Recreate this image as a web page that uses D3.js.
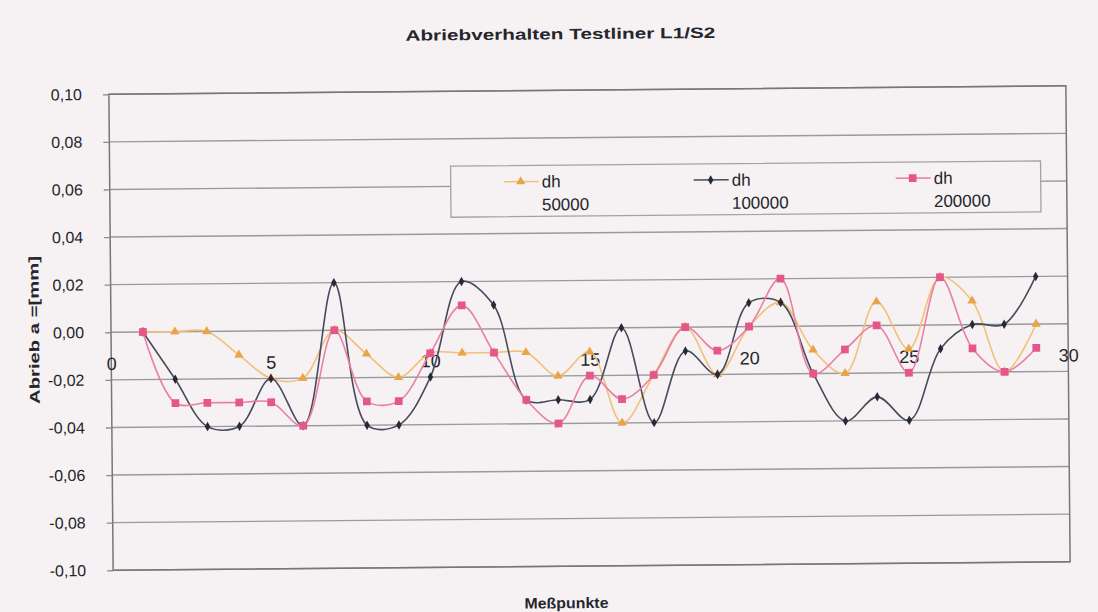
<!DOCTYPE html>
<html>
<head>
<meta charset="utf-8">
<script src="https://cdn.jsdelivr.net/npm/d3@7"></script>
<style>
  body { margin: 0; background: #f6f2f4; }
  svg { display: block; }
  text { font-family: "Liberation Sans", Arial, sans-serif; fill: #26262b; }
</style>
</head>
<body>
<svg id="chart"></svg>
<script>
// Meßpunkte 1..29
const points = [1, 2, 3, 4, 5, 6, 7, 8, 9, 10, 11, 12, 13, 14, 15, 16, 17, 18, 19, 20,
  21, 22, 23, 24, 25, 26, 27, 28, 29];
const dh50000 = [0, 0, 0, -0.01, -0.02, -0.02, 0, -0.01, -0.02, -0.01, -0.01, -0.01, -0.01, -0.02, -0.01,
  -0.04, -0.02, 0, -0.02, 0, 0.01, -0.01, -0.02, 0.01, -0.01, 0.02, 0.01, -0.02, 0];
const dh100000 = [0, -0.02, -0.04, -0.04, -0.02, -0.04, 0.02, -0.04, -0.04, -0.02, 0.02, 0.01, -0.03, -0.03, -0.03,
  0, -0.04, -0.01, -0.02, 0.01, 0.01, -0.02, -0.04, -0.03, -0.04, -0.01, 0, 0, 0.02];
const dh200000 = [0, -0.03, -0.03, -0.03, -0.03, -0.04, 0, -0.03, -0.03, -0.01, 0.01, -0.01, -0.03, -0.04, -0.02,
  -0.03, -0.02, 0, -0.01, 0, 0.02, -0.02, -0.01, 0, -0.02, 0.02, -0.01, -0.02, -0.01];
const seriesNames = ["dh 50000", "dh 100000", "dh 200000"];
const yTicks = [0.10, 0.08, 0.06, 0.04, 0.02, 0, -0.02, -0.04, -0.06, -0.08, -0.10];
const xTicks = [0, 5, 10, 15, 20, 25, 30];

const W = 1098, H = 612;
const plot = { left: 111, right: 1068, top: 90, bottom: 566 };

const svg = d3.select("#chart").attr("width", W).attr("height", H);
// the scan is slightly rotated
const root = svg.append("g").attr("transform", "rotate(-0.51, 589.5, 328)");

const x = d3.scaleLinear().domain([0, 30]).range([plot.left, plot.right]);
const y = d3.scaleLinear().domain([-0.1, 0.1]).range([plot.bottom, plot.top]);
const fmt = d => d.toFixed(2).replace(".", ",").replace("−", "-");

// gridlines
root.append("g")
  .selectAll("line")
  .data(yTicks)
  .join("line")
  .attr("x1", plot.left).attr("x2", plot.right)
  .attr("y1", d => y(d)).attr("y2", d => y(d))
  .attr("stroke", "#9b999b").attr("stroke-width", 1.4);

// plot border
root.append("rect")
  .attr("x", plot.left).attr("y", plot.top)
  .attr("width", plot.right - plot.left).attr("height", plot.bottom - plot.top)
  .attr("fill", "none").attr("stroke", "#77767a").attr("stroke-width", 1.5);

// y axis
const yAxis = root.append("g")
  .attr("transform", `translate(${plot.left},0)`)
  .call(d3.axisLeft(y).tickValues(yTicks).tickFormat(fmt).tickSize(6).tickPadding(21));
yAxis.select(".domain").remove();
yAxis.selectAll("line").attr("stroke", "#8a898c").attr("stroke-width", 1.3);
yAxis.selectAll("text").attr("font-size", 16).attr("fill", "#2a2a30")
  .attr("font-family", "Liberation Sans, Arial, sans-serif");

// x axis (category numbers at the zero line)
const xAxis = root.append("g")
  .attr("transform", `translate(0,${y(0)})`)
  .call(d3.axisBottom(x).tickValues(xTicks).tickSize(0).tickPadding(25));
xAxis.select(".domain").remove();
xAxis.selectAll("text").attr("font-size", 18).attr("fill", "#2a2a30")
  .attr("font-family", "Liberation Sans, Arial, sans-serif");

const series = [
  { name: seriesNames[0], values: dh50000, line: "#f1c07a", mark: "#e9a447", sym: d3.symbolTriangle, size: 38 },
  { name: seriesNames[1], values: dh100000, line: "#454b5c", mark: "#262a36", sym: d3.symbolDiamond, size: 26 },
  { name: seriesNames[2], values: dh200000, line: "#ea7ea3", mark: "#e4578a", sym: d3.symbolSquare, size: 60 }
];

const line = d3.line().curve(d3.curveCatmullRom.alpha(0.5))
  .x(d => x(d[0])).y(d => y(d[1]));

series.forEach(s => {
  const pts = points.map((p, i) => [p, s.values[i]]);
  root.append("path")
    .datum(pts)
    .attr("d", line)
    .attr("fill", "none")
    .attr("stroke", s.line)
    .attr("stroke-width", 1.6);
  root.append("g")
    .selectAll("path")
    .data(pts)
    .join("path")
    .attr("transform", d => `translate(${x(d[0])},${y(d[1])})`)
    .attr("d", d3.symbol().type(s.sym).size(s.size))
    .attr("fill", s.mark);
});

// legend
const legend = root.append("g");
legend.append("rect")
  .attr("x", 452).attr("y", 165).attr("width", 590).attr("height", 51)
  .attr("fill", "#f6f2f4").attr("stroke", "#a3a1a4").attr("stroke-width", 1.3);
const legendX = [505, 695, 897];
series.forEach((s, i) => {
  const g = legend.append("g").attr("transform", `translate(${legendX[i]},181)`);
  g.append("line").attr("x1", 0).attr("x2", 35).attr("stroke", s.line).attr("stroke-width", 1.6);
  g.append("path").attr("transform", "translate(17,0)")
    .attr("d", d3.symbol().type(s.sym).size(s.size)).attr("fill", s.mark);
  const parts = s.name.split(" ");
  g.append("text").attr("x", 38).attr("y", 6).attr("font-size", 17).text(parts[0]);
  g.append("text").attr("x", 38).attr("y", 29).attr("font-size", 17).text(parts[1]);
});

// titles
root.append("text")
  .attr("x", 563).attr("y", 39)
  .attr("text-anchor", "middle")
  .attr("font-size", 15).attr("font-weight", "bold")
  .attr("textLength", 310).attr("lengthAdjust", "spacingAndGlyphs")
  .text("Abriebverhalten Testliner L1/S2");

root.append("text")
  .attr("x", 564).attr("y", 608)
  .attr("text-anchor", "middle")
  .attr("font-size", 15).attr("font-weight", "bold")
  .attr("textLength", 84).attr("lengthAdjust", "spacingAndGlyphs")
  .text("Meßpunkte");

root.append("text")
  .attr("transform", "translate(39,325) rotate(-90)")
  .attr("text-anchor", "middle")
  .attr("font-size", 14).attr("font-weight", "bold")
  .attr("textLength", 148).attr("lengthAdjust", "spacingAndGlyphs")
  .text("Abrieb a =[mm]");
</script>
</body>
</html>
